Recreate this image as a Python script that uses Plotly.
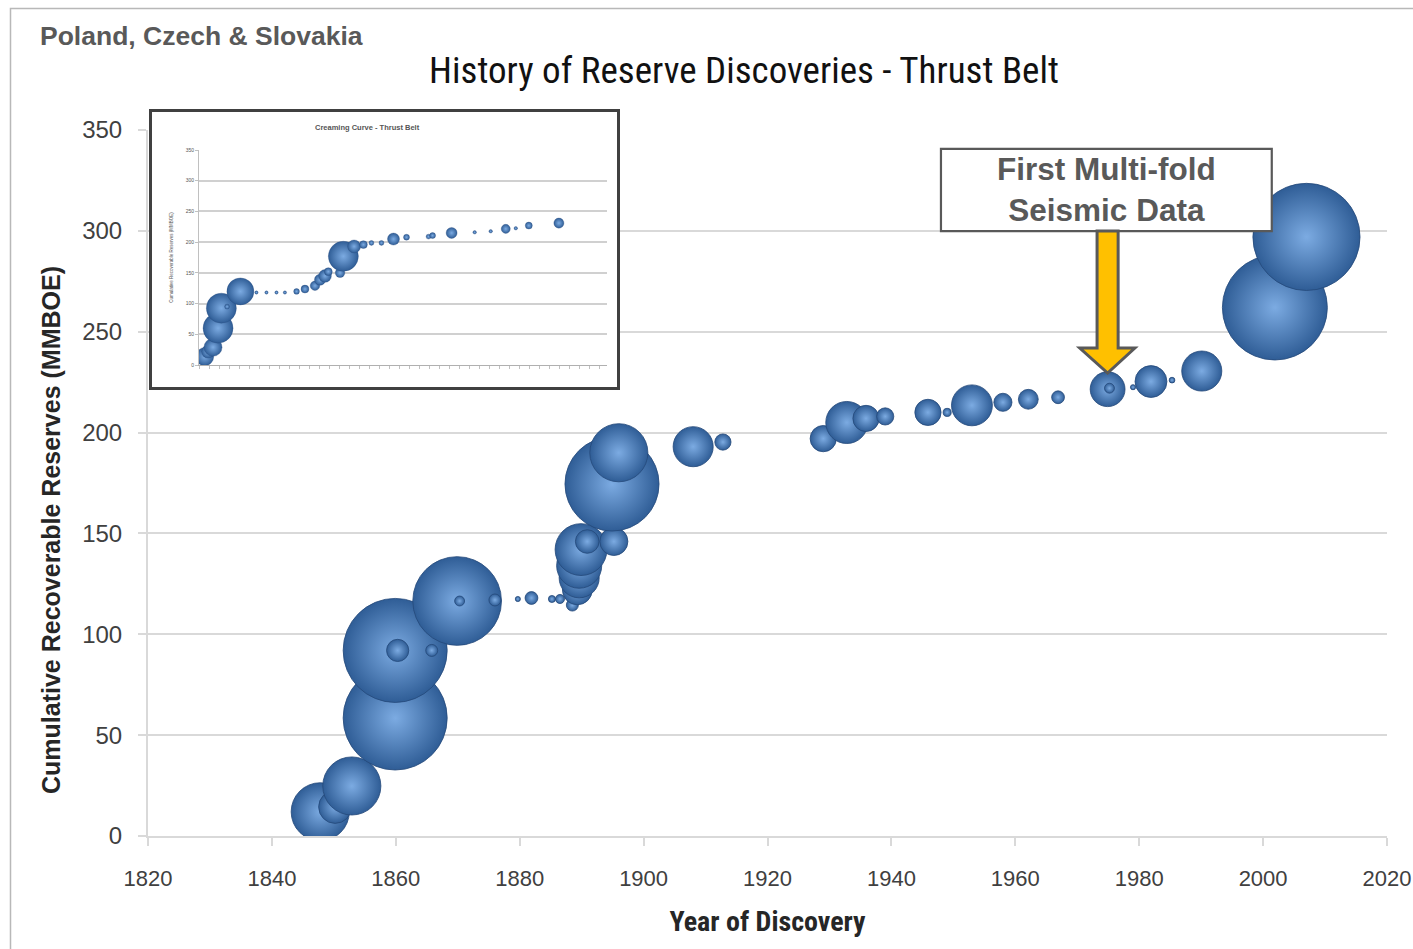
import plotly.graph_objects as go

# ---------------- data: main chart ----------------
years = [1847.8, 1850.2, 1852.9, 1859.9, 1859.9, 1860.3, 1865.8, 1869.9, 1870.3, 1876.0,
         1879.7, 1881.9, 1885.2, 1886.5, 1888.5, 1889.3, 1889.6, 1889.6, 1889.9, 1890.9,
         1895.2, 1894.9, 1896.0, 1908.0, 1912.8, 1929.0, 1932.8, 1935.9, 1939.0, 1945.9,
         1949.0, 1953.0, 1958.0, 1962.1, 1966.9, 1974.9, 1975.2, 1979.0, 1981.9, 1985.3,
         1990.1, 2001.9, 2007.0]
cumulative = [12.0, 14.4, 24.8, 58.5, 92.0, 92.0, 92.0, 116.5, 116.5, 117.0,
              117.5, 118.0, 117.5, 117.5, 114.5, 122.0, 128.0, 134.0, 142.0, 146.0,
              146.0, 174.5, 190.0, 193.0, 195.3, 197.0, 205.0, 207.0, 208.0, 210.0,
              210.0, 213.5, 215.0, 216.5, 217.5, 221.5, 222.0, 222.5, 225.3, 226.0,
              230.5, 262.0, 297.0]
discovery = [10.3, 3.3, 10.3, 33.0, 33.0, 1.5, 0.44, 24.0, 0.3, 0.44,
             0.08, 0.5, 0.15, 0.25, 0.44, 2.7, 4.9, 6.2, 8.2, 1.7,
             2.4, 27.0, 10.3, 4.9, 0.8, 2.1, 5.4, 2.1, 0.9, 2.1,
             0.2, 5.1, 1.0, 1.2, 0.5, 3.7, 0.3, 0.08, 3.1, 0.1,
             4.9, 33.6, 35.0]

x_ticks = [1820, 1840, 1860, 1880, 1900, 1920, 1940, 1960, 1980, 2000, 2020]
y_ticks = [0, 50, 100, 150, 200, 250, 300, 350]

# ---------------- data: inset creaming curve ----------------
inset_seq = [0.57, 0.9, 1.4, 1.9, 2.23, 2.8, 4.13, 5.73, 6.73, 7.73,
             8.57, 9.73, 10.57, 11.57, 12.07, 12.57, 12.9, 14.07, 14.4, 15.47,
             16.4, 17.2, 18.2, 19.4, 20.7, 22.9, 23.3, 25.2, 27.5, 29.1,
             30.6, 31.6, 32.9, 35.9]
inset_cum = [13.6, 21.8, 28.9, 60.0, 92.5, 95.0, 119.8, 118.0, 118.0, 118.0,
             118.0, 119.8, 123.6, 129.0, 138.8, 145.0, 152.0, 150.0, 177.0, 193.0,
             196.0, 198.7, 198.7, 205.0, 208.0, 209.0, 210.7, 215.0, 216.0, 217.7,
             221.6, 222.6, 227.0, 231.0]
inset_disc = [11.9, 6.2, 11.9, 33.0, 33.0, 0.9, 26.7, 0.4, 0.4, 0.4,
              0.4, 1.2, 2.3, 3.3, 4.5, 5.9, 2.3, 3.3, 33.0, 6.2,
              2.3, 0.9, 0.9, 5.3, 1.3, 0.9, 1.3, 4.4, 0.45, 0.45,
              3.0, 0.45, 1.8, 3.7]

W, H = 1413, 949
ML, MR, MT, MB = 148, 26, 100, 113
PW = W - ML - MR
PH = H - MT - MB


def fx(px):
    return (px - ML) / PW


def fy(py):
    return (H - MB - py) / PH


AXIS_GREY = "#d9d9d9"
TEXT_GREY = "#595959"
EDGE = "#2f5d96"
CENTER = "#7cabe2"

fig = go.Figure()

fig.add_trace(go.Scatter(
    x=years, y=cumulative, mode="markers",
    marker=dict(size=discovery, sizemode="area", sizeref=2 / 328.0,
                color=EDGE, gradient=dict(type="radial", color=CENTER),
                line=dict(width=0.8, color="#24497a"), opacity=1),
    xaxis="x", yaxis="y", showlegend=False, hoverinfo="x+y"))

# inset frame subplot (empty, white background, dark border)
fig.add_trace(go.Scatter(x=[None], y=[None], xaxis="x2", yaxis="y2",
                         showlegend=False, hoverinfo="skip"))

fig.add_trace(go.Scatter(
    x=inset_seq, y=inset_cum, mode="markers",
    marker=dict(size=inset_disc, sizemode="area", sizeref=2 / 27.3,
                color=EDGE, gradient=dict(type="radial", color=CENTER),
                line=dict(width=0.3, color="#24497a"), opacity=1),
    xaxis="x3", yaxis="y3", showlegend=False, hoverinfo="x+y"))

main_font = "Liberation Sans, Arial, sans-serif"
narrow_font = "Liberation Sans Narrow, Arial Narrow, Roboto Condensed, Liberation Sans, sans-serif"

fig.update_layout(
    width=W, height=H,
    margin=dict(l=ML, r=MR, t=MT, b=MB, autoexpand=False),
    paper_bgcolor="white", plot_bgcolor="white",
    title=dict(text="History of Reserve Discoveries - Thrust Belt",
               x=744 / W, xref="container", xanchor="center",
               y=1 - 70 / H, yref="container", yanchor="middle",
               font=dict(family=narrow_font, size=37, color="#111111")),
    xaxis=dict(domain=[0, 1], range=[1820, 2020], tickvals=x_ticks,
               showgrid=False, zeroline=False,
               showline=True, linecolor=AXIS_GREY, linewidth=2,
               ticks="outside", ticklen=8, tickwidth=2, tickcolor=AXIS_GREY,
               ticklabelstandoff=14,
               tickfont=dict(family=main_font, size=22, color="#404040"),
               title=dict(text="Year of Discovery", standoff=21,
                          font=dict(family=narrow_font, size=28, color="#262626", weight="bold")),
               fixedrange=True),
    yaxis=dict(domain=[0, fy(130)], range=[0, 350], tickvals=y_ticks,
               showgrid=True, gridcolor=AXIS_GREY, gridwidth=2, zeroline=False,
               showline=True, linecolor=AXIS_GREY, linewidth=2,
               ticks="outside", ticklen=8, tickwidth=2, tickcolor=AXIS_GREY,
               ticklabelstandoff=11,
               tickfont=dict(family=main_font, size=24, color="#404040"),
               fixedrange=True),
    xaxis2=dict(domain=[fx(152), fx(617)], range=[0, 1], visible=True,
                showgrid=False, zeroline=False, showticklabels=False, ticks="",
                showline=True, mirror=True, linecolor="#404040", linewidth=3,
                anchor="y2", fixedrange=True),
    yaxis2=dict(domain=[fy(387), fy(112)], range=[0, 1],
                showgrid=False, zeroline=False, showticklabels=False, ticks="",
                showline=True, mirror=True, linecolor="#404040", linewidth=3,
                anchor="x2", fixedrange=True),
    xaxis3=dict(domain=[fx(199), fx(607)], range=[0, 40.7], dtick=1, tick0=0,
                showgrid=False, zeroline=False, showticklabels=False,
                ticks="outside", ticklen=3, tickwidth=1, tickcolor="#c0c0c0",
                showline=True, linecolor="#b0b0b0", linewidth=1,
                anchor="y3", fixedrange=True),
    yaxis3=dict(domain=[fy(365), fy(150)], range=[0, 350], dtick=50,
                showgrid=True, gridcolor="#d0d0d0", gridwidth=1.5, zeroline=False,
                showline=True, linecolor="#c0c0c0", linewidth=1,
                ticks="outside", ticklen=3, tickcolor="#c0c0c0",
                tickfont=dict(family=main_font, size=5, color="#555555"),
                title=dict(text="Cumulative Recoverable Reserves (MMBOE)", standoff=12,
                           font=dict(family=main_font, size=4.5, color="#555555")),
                anchor="x3", fixedrange=True),
)

annotations = [
    dict(text="Poland, Czech & Slovakia", xref="paper", yref="paper",
         x=fx(38), y=fy(36), xanchor="left", yanchor="middle", showarrow=False,
         font=dict(family=main_font, size=26.5, color=TEXT_GREY, weight="bold")),
    dict(text="Cumulative Recoverable Reserves (MMBOE)", xref="paper", yref="paper",
         x=fx(51), y=fy(530), xanchor="center", yanchor="middle", showarrow=False,
         textangle=-90,
         font=dict(family=main_font, size=25, color="#262626", weight="bold")),
    dict(text="Creaming Curve - Thrust Belt", xref="paper", yref="paper",
         x=fx(367), y=fy(128), xanchor="center", yanchor="middle", showarrow=False,
         font=dict(family=main_font, size=7.5, color="#555555", weight="bold")),
    dict(text="First Multi-fold<br>Seismic Data", xref="x", yref="y",
         x=1974.7, y=320.3, xanchor="center", yanchor="middle", showarrow=False,
         font=dict(family=main_font, size=31.5, color=TEXT_GREY, weight="bold")),
]

shapes = [
    # outer frame of the slide image
    dict(type="rect", xref="paper", yref="paper", x0=fx(10.5), x1=fx(1430),
         y0=fy(970), y1=fy(8.5), line=dict(color="#b8b8b8", width=1.5), layer="below"),
    # annotation box
    dict(type="rect", xref="x", yref="y", x0=1948.0, x1=2001.4, y0=299.9, y1=340.6,
         line=dict(color=TEXT_GREY, width=2.2), fillcolor="white", layer="above"),
    # yellow arrow
    dict(type="path", xref="x", yref="y",
         path=("M 1973.2,299.9 L 1976.6,299.9 L 1976.6,241.9 L 1979.3,241.9 "
               "L 1974.9,229.5 L 1970.4,241.9 L 1973.2,241.9 Z"),
         line=dict(color=TEXT_GREY, width=3), fillcolor="#FFC000", layer="above"),
]

fig.update_layout(annotations=annotations, shapes=shapes)

fig.write_html("out.html", include_plotlyjs=True, config={"displayModeBar": False},
               post_script="document.body.style.margin='0';")
